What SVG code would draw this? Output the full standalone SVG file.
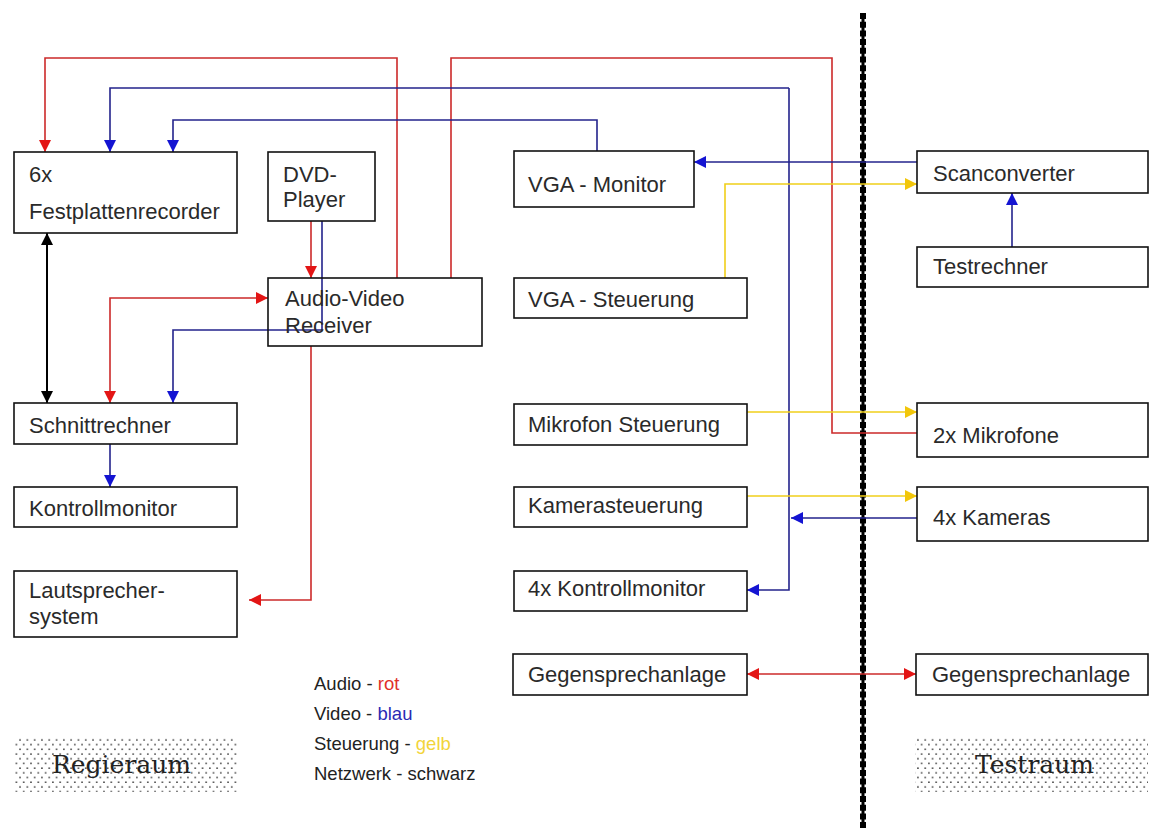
<svg xmlns="http://www.w3.org/2000/svg" width="1150" height="828" viewBox="0 0 1150 828">
  <style>
    .box { fill: #ffffff; stroke: #111111; stroke-width: 1.6; }
    .lbl { font-family: "Liberation Sans", Arial, sans-serif; font-size: 22px; fill: #2a2a2a; }
    .leg { font-family: "Liberation Sans", Arial, sans-serif; font-size: 18.5px; fill: #222222; }
    .room { font-family: "DejaVu Serif", "Liberation Serif", serif; font-size: 25px; fill: #222222; }
    .w { fill: none; stroke-width: 1.6; stroke-linejoin: miter; }
    .audio { stroke: #cc2a2a; marker-end: url(#ah-red); }
    .video { stroke: #23238c; marker-end: url(#ah-blue); }
    .ctrl { stroke: #f0cf1a; marker-end: url(#ah-yellow); }
    .net { stroke: #000000; stroke-width: 2; marker-start: url(#ah-black); marker-end: url(#ah-black); }
    .plain { marker-end: none; }
    .both { marker-start: url(#ah-red); }
  </style>
  <defs>
    <marker id="ah-red" markerUnits="userSpaceOnUse" markerWidth="12" markerHeight="12" viewBox="0 0 12 12" refX="12" refY="6" orient="auto-start-reverse">
      <path d="M0,0 L12,6 L0,12 z" fill="#e31515"/>
    </marker>
    <marker id="ah-blue" markerUnits="userSpaceOnUse" markerWidth="12" markerHeight="12" viewBox="0 0 12 12" refX="12" refY="6" orient="auto-start-reverse">
      <path d="M0,0 L12,6 L0,12 z" fill="#1414d2"/>
    </marker>
    <marker id="ah-yellow" markerUnits="userSpaceOnUse" markerWidth="12" markerHeight="12" viewBox="0 0 12 12" refX="12" refY="6" orient="auto-start-reverse">
      <path d="M0,0 L12,6 L0,12 z" fill="#f2c60a"/>
    </marker>
    <marker id="ah-black" markerUnits="userSpaceOnUse" markerWidth="12" markerHeight="12" viewBox="0 0 12 12" refX="12" refY="6" orient="auto-start-reverse">
      <path d="M0,0 L12,6 L0,12 z" fill="#000000"/>
    </marker>
    <pattern id="halftone" patternUnits="userSpaceOnUse" width="7.3" height="9.4">
      <circle cx="1.8" cy="2" r="0.85" fill="#3a3a3a"/>
      <circle cx="5.45" cy="6.7" r="0.85" fill="#3a3a3a"/>
    </pattern>
  </defs>

  <rect width="1150" height="828" fill="#ffffff"/>

  <!-- room separator -->
  <g id="separator">
    <line x1="863" y1="13" x2="863" y2="828" stroke="#000" stroke-width="3"/>
    <line x1="863" y1="13" x2="863" y2="828" stroke="#000" stroke-width="6" stroke-dasharray="6 2.7"/>
  </g>

  <!-- connectors -->
  <g id="connectors">
    <!-- audio (red) -->
    <path class="w audio" d="M397,278 V58 H45 V152"/>
    <path class="w audio plain" d="M451,278 V58 H832 V433 H917"/>
    <path class="w audio" d="M311,221 V278"/>
    <path class="w audio both" d="M268,298 H110 V403"/>
    <path class="w audio" d="M311,346 V600 H249"/>
    <path class="w audio both" d="M747,674 H916"/>
    <!-- video (blue) -->
    <path class="w video" d="M789,88 H110 V152"/>
    <path class="w video" d="M789,88 V590 H747"/>
    <path class="w video" d="M597,151 V120 H173 V152"/>
    <path class="w video" d="M917,162 H694"/>
    <path class="w video" d="M1012,247 V193"/>
    <path class="w video" d="M322,221 V330 H173 V403"/>
    <path class="w video" d="M110,444 V487"/>
    <path class="w video" d="M917,518 H791"/>
    <!-- control (yellow) -->
    <path class="w ctrl" d="M725,278 V184 H917"/>
    <path class="w ctrl" d="M747,412 H917"/>
    <path class="w ctrl" d="M747,496 H917"/>
    <!-- network (black) -->
    <path class="w net" d="M47,233 V403"/>
  </g>

  <!-- control room -->
  <g id="festplattenrecorder">
    <rect class="box" x="14" y="152" width="223" height="81"/>
    <text class="lbl" x="29" y="182">6x</text>
    <text class="lbl" x="29" y="219">Festplattenrecorder</text>
  </g>
  <g id="dvd-player">
    <rect class="box" x="268" y="152" width="107" height="69"/>
    <text class="lbl" x="283" y="182">DVD-</text>
    <text class="lbl" x="283" y="207">Player</text>
  </g>
  <g id="av-receiver">
    <rect class="box" x="268" y="278" width="214" height="68" fill-opacity="0"/>
    <text class="lbl" x="285" y="306">Audio-Video</text>
    <text class="lbl" x="285" y="333">Receiver</text>
  </g>
  <g id="schnittrechner">
    <rect class="box" x="14" y="403" width="223" height="41"/>
    <text class="lbl" x="29" y="433">Schnittrechner</text>
  </g>
  <g id="kontrollmonitor">
    <rect class="box" x="14" y="487" width="223" height="40"/>
    <text class="lbl" x="29" y="516">Kontrollmonitor</text>
  </g>
  <g id="lautsprecher">
    <rect class="box" x="14" y="571" width="223" height="66"/>
    <text class="lbl" x="29" y="598">Lautsprecher-</text>
    <text class="lbl" x="29" y="624">system</text>
  </g>
  <g id="vga-monitor">
    <rect class="box" x="514" y="151" width="180" height="56"/>
    <text class="lbl" x="528" y="192">VGA - Monitor</text>
  </g>
  <g id="vga-steuerung">
    <rect class="box" x="514" y="278" width="233" height="40"/>
    <text class="lbl" x="528" y="307">VGA - Steuerung</text>
  </g>
  <g id="mikrofon-steuerung">
    <rect class="box" x="514" y="404" width="233" height="41"/>
    <text class="lbl" x="528" y="432">Mikrofon Steuerung</text>
  </g>
  <g id="kamerasteuerung">
    <rect class="box" x="514" y="487" width="233" height="40"/>
    <text class="lbl" x="528" y="513">Kamerasteuerung</text>
  </g>
  <g id="kontrollmonitor-4x">
    <rect class="box" x="514" y="571" width="233" height="40"/>
    <text class="lbl" x="528" y="596">4x Kontrollmonitor</text>
  </g>
  <g id="gegensprechanlage-regie">
    <rect class="box" x="513" y="654" width="234" height="41"/>
    <text class="lbl" x="528" y="682">Gegensprechanlage</text>
  </g>

  <!-- test room -->
  <g id="scanconverter">
    <rect class="box" x="917" y="151" width="231" height="42"/>
    <text class="lbl" x="933" y="181">Scanconverter</text>
  </g>
  <g id="testrechner">
    <rect class="box" x="917" y="247" width="231" height="40"/>
    <text class="lbl" x="933" y="274">Testrechner</text>
  </g>
  <g id="mikrofone">
    <rect class="box" x="917" y="403" width="231" height="54"/>
    <text class="lbl" x="933" y="443">2x Mikrofone</text>
  </g>
  <g id="kameras">
    <rect class="box" x="917" y="487" width="231" height="54"/>
    <text class="lbl" x="933" y="525">4x Kameras</text>
  </g>
  <g id="gegensprechanlage-test">
    <rect class="box" x="916" y="654" width="232" height="41"/>
    <text class="lbl" x="932" y="682">Gegensprechanlage</text>
  </g>

  <!-- legend -->
  <g id="legend">
    <text class="leg" x="314" y="690">Audio - <tspan fill="#e0302a">rot</tspan></text>
    <text class="leg" x="314" y="720">Video - <tspan fill="#2a2ab4">blau</tspan></text>
    <text class="leg" x="314" y="750">Steuerung - <tspan fill="#f2d43a">gelb</tspan></text>
    <text class="leg" x="314" y="780">Netzwerk - schwarz</text>
  </g>

  <!-- room labels -->
  <g id="regieraum">
    <rect x="15" y="737" width="222" height="55" fill="url(#halftone)"/>
    <text class="room" x="52" y="773">Regieraum</text>
  </g>
  <g id="testraum">
    <rect x="915" y="737" width="233" height="55" fill="url(#halftone)"/>
    <text class="room" x="975" y="773">Testraum</text>
  </g>
</svg>
